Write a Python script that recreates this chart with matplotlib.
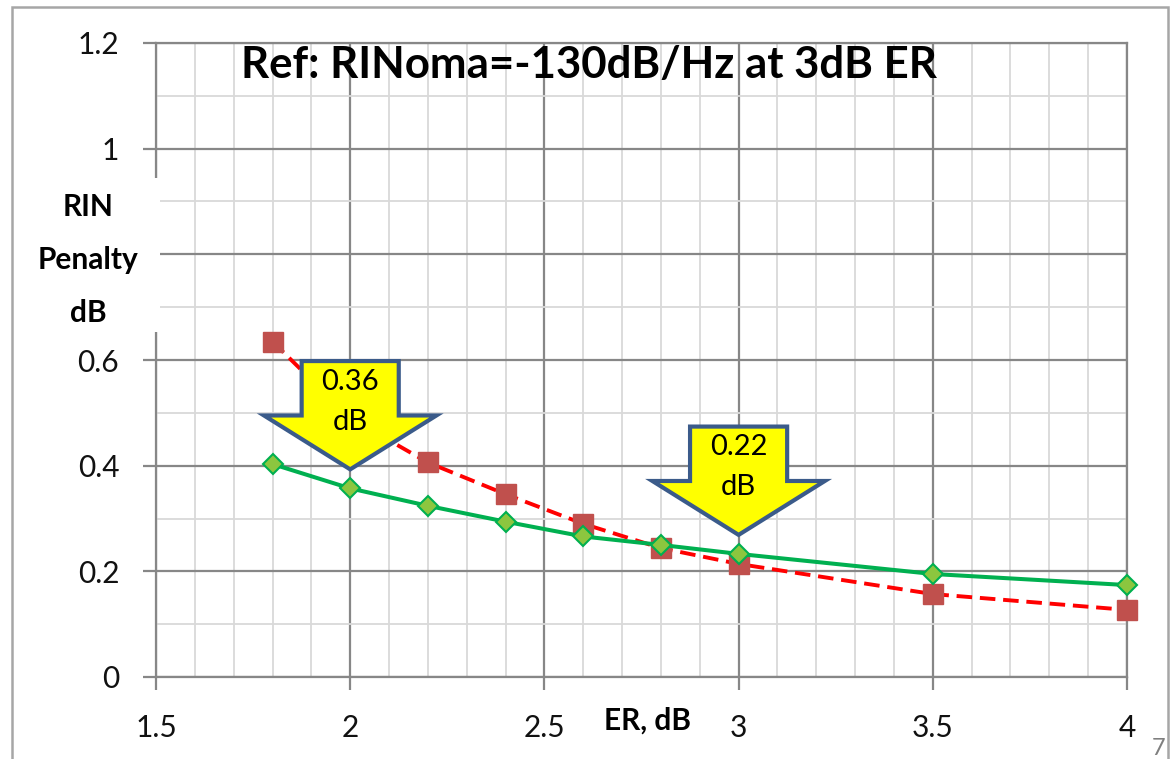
import matplotlib
matplotlib.use('Agg')
import matplotlib.pyplot as plt
from matplotlib.patches import Polygon, Rectangle
from matplotlib.ticker import MultipleLocator

plt.rcParams['font.family'] = ['Lato', 'DejaVu Sans']

# data
er = [1.8, 2.0, 2.2, 2.4, 2.6, 2.8, 3.0, 3.5, 4.0]
penalty_red = [0.635, 0.49, 0.406, 0.346, 0.290, 0.244, 0.214, 0.157, 0.127]
penalty_green = [0.403, 0.357, 0.324, 0.294, 0.266, 0.250, 0.233, 0.195, 0.174]

x_ticks = [1.5, 2.0, 2.5, 3.0, 3.5, 4.0]
x_tick_labels = ['1.5', '2', '2.5', '3', '3.5', '4']
y_ticks = [0, 0.2, 0.4, 0.6, 0.8, 1.0, 1.2]
y_tick_labels = ['0', '0.2', '0.4', '0.6', '', '1', '1.2']

arrow_er = [2.0, 3.0]
arrow_labels = ['0.36\ndB', '0.22\ndB']

title = 'Ref: RINoma=-130dB/Hz at 3dB ER'

W, H = 1171, 759
MAJOR = '#878787'
MINOR = '#d9d9d9'


def px(x, y):
    # pixel position -> figure fraction
    return x / W, 1 - y / H


def down_arrow(ax, x, tip, text):
    body, wing = 0.125, 0.222
    shoulder, top = tip + 0.102, tip + 0.205
    pts = [(x, tip), (x + wing, shoulder), (x + body, shoulder),
           (x + body, top), (x - body, top), (x - body, shoulder),
           (x - wing, shoulder)]
    ax.add_patch(Polygon(pts, closed=True, facecolor='#FFFF00',
                         edgecolor='#3B5B8A', lw=3, zorder=6))
    ax.text(x, tip + 0.128, text, ha='center', va='center', fontsize=21,
            linespacing=1.65, color='black', zorder=7)


fig = plt.figure(figsize=(W / 100, H / 100), dpi=100)
fig.patch.set_facecolor('white')
l, b = px(156, 677)
r, t = px(1127, 43)
ax = fig.add_axes([l, b, r - l, t - b])

ax.plot(er, penalty_red, color='#FF0000', lw=2.8, dashes=(4, 2),
        marker='s', markersize=14, mfc='#C0504D', mec='#C0504D', zorder=3,
        clip_on=False)
ax.plot(er, penalty_green, color='#00B050', lw=2.9, marker='D',
        markersize=10, mfc='#8CC63F', mec='#00B050', mew=1.5, zorder=4,
        clip_on=False)

for x, lab in zip(arrow_er, arrow_labels):
    g = penalty_green[er.index(x)]
    down_arrow(ax, x, g + 0.036, lab)

ax.set_xlim(1.5, 4.0)
ax.set_ylim(0, 1.2)
ax.set_xticks(x_ticks)
ax.set_xticklabels(x_tick_labels)
ax.set_yticks(y_ticks)
ax.set_yticklabels(y_tick_labels)
ax.xaxis.set_minor_locator(MultipleLocator(0.1))
ax.yaxis.set_minor_locator(MultipleLocator(0.1))
ax.grid(which='minor', color=MINOR, lw=1.3, zorder=0)
ax.grid(which='major', color=MAJOR, lw=1.6, zorder=1)
ax.set_axisbelow(True)
ax.tick_params(which='minor', length=0)
ax.tick_params(which='major', length=9.5, width=1.6, color=MAJOR,
               labelsize=21.5, pad=17, labelcolor='#111111')
for s in ax.spines.values():
    s.set_color(MAJOR)
    s.set_linewidth(1.6)

# white box behind the y label hides axis there
x0, y0 = px(14, 332)
x1, y1 = px(160, 178)
fig.add_artist(Rectangle((x0, y0), x1 - x0, y1 - y0, transform=fig.transFigure,
                         facecolor='white', edgecolor='none', zorder=5))
fig.text(*px(88, 260), 'RIN\nPenalty\ndB', ha='center', va='center',
         fontsize=21.5, fontweight='bold', linespacing=2.1, zorder=6)

fig.text(*px(648, 721), 'ER, dB', ha='center', va='center', fontsize=21.5,
         fontweight='bold', zorder=6)
fig.text(*px(241, 78), title, ha='left', va='baseline', fontsize=31.5,
         fontweight='bold', zorder=6)

# outer slide frame and page number
fx0, fy0 = px(12, 800)
fx1, fy1 = px(1168, 7)
fig.add_artist(Rectangle((fx0, fy0), fx1 - fx0, fy1 - fy0,
                         transform=fig.transFigure, facecolor='none',
                         edgecolor='#a6a6a6', lw=1.8, zorder=8))
fig.text(*px(1152, 738), '7', ha='left', va='top', fontsize=17,
         color='#7f7f7f')

fig.savefig('out.png', dpi=100)
